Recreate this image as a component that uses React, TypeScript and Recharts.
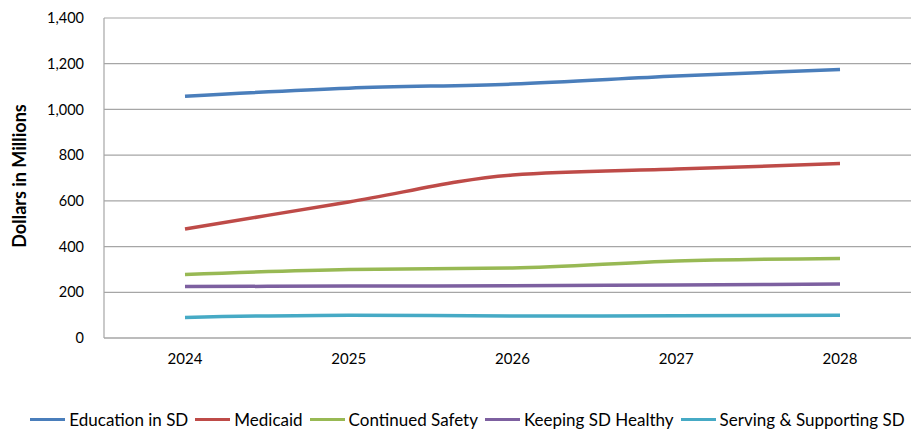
import React from 'react'
import { LineChart, Line, XAxis, YAxis, CartesianGrid, Legend } from 'recharts'

const years = ['2024', '2025', '2026', '2027', '2028']
const education = [1058, 1093, 1111, 1146, 1175]
const medicaid = [477, 595, 713, 739, 763]
const safety = [278, 300, 306, 337, 348]
const healthy = [225, 227, 229, 232, 236]
const serving = [90, 100, 96, 97, 99]
const yTicks = [0, 200, 400, 600, 800, 1000, 1200, 1400]

const series = [
  { key: 'education', name: 'Education in SD', color: '#4A7EBB', values: education },
  { key: 'medicaid', name: 'Medicaid', color: '#BE4B48', values: medicaid },
  { key: 'safety', name: 'Continued Safety', color: '#98B954', values: safety },
  { key: 'healthy', name: 'Keeping SD Healthy', color: '#7D60A0', values: healthy },
  { key: 'serving', name: 'Serving & Supporting SD', color: '#46AAC5', values: serving },
]

const data = years.map((year, i) => {
  const row: any = { year }
  series.forEach((s) => { row[s.key] = s.values[i] })
  return row
})

const font = 'Lato, "Open Sans", sans-serif'

const LegendContent = () => (
  <div style={{ height: 43, paddingTop: 20, paddingLeft: 24, boxSizing: 'border-box', display: 'flex', justifyContent: 'center', fontFamily: font, fontSize: 17, lineHeight: '20px', color: '#000', whiteSpace: 'nowrap' }}>
    {series.map((s, i) => (
      <div key={s.key} style={{ display: 'flex', alignItems: 'center', marginRight: i < series.length - 1 ? 7 : 0 }}>
        <span style={{ display: 'inline-block', width: 35, height: 3, background: s.color, marginRight: 4 }} />
        <span>{s.name}</span>
      </div>
    ))}
  </div>
)

const YLabel = (props: any) => {
  const { viewBox } = props
  const cy = viewBox.y + viewBox.height / 2 - 2
  return (
    <text x={19} y={cy} transform={`rotate(-90, 19, ${cy})`} textAnchor="middle" dominantBaseline="central"
      style={{ fontFamily: font, fontSize: 18, fontWeight: 700, fill: '#000' }}>
      Dollars in Millions
    </text>
  )
}

export default function App() {
  return (
    <div style={{ position: 'absolute', left: 0, top: 0, width: 912, height: 431, background: '#fff' }}>
      <LineChart width={912} height={431} data={data} margin={{ top: 18, right: 1, left: 0, bottom: 0 }}>
        <CartesianGrid vertical={false} stroke="#a6a6a6" strokeWidth={1.2} />
        <XAxis dataKey="year" height={50} padding={{ left: 81, right: 71 }} tickLine={false}
          axisLine={{ stroke: '#a6a6a6', strokeWidth: 1.2 }} tickSize={0} tickMargin={15}
          tick={{ fill: '#000', fontSize: 15, fontFamily: font }} />
        <YAxis width={104} domain={[0, 1400]} ticks={yTicks} tickLine={false} tickSize={0} tickMargin={20}
          axisLine={{ stroke: '#a6a6a6', strokeWidth: 1.2 }}
          tickFormatter={(v) => v.toLocaleString('en-US')}
          tick={{ fill: '#000', fontSize: 14.5, fontFamily: font }}
          label={<YLabel />} />
        <Legend verticalAlign="bottom" content={<LegendContent />} />
        {series.map((s) => (
          <Line key={s.key} type="monotone" dataKey={s.key} name={s.name} stroke={s.color} strokeWidth={3.5}
            dot={false} activeDot={false} isAnimationActive={false} />
        ))}
      </LineChart>
    </div>
  )
}
